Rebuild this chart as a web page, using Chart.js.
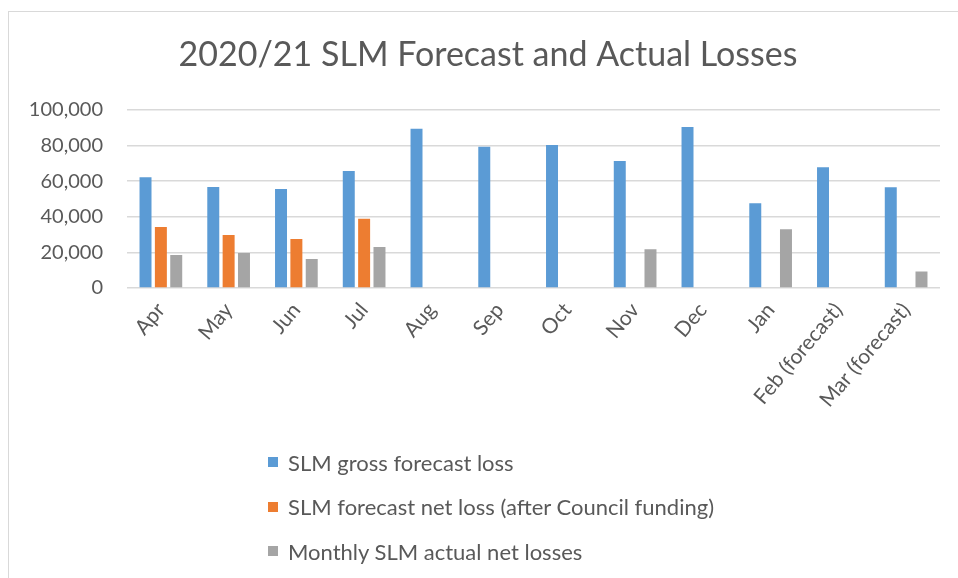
<!DOCTYPE html>
<html>
<head>
<meta charset="utf-8">
<script src="https://cdn.jsdelivr.net/npm/chart.js@4/dist/chart.umd.min.js"></script>
<style>
  html, body { margin: 0; padding: 0; background: #fff; }
  #wrap { position: relative; width: 958px; height: 578px; overflow: hidden; background: #fff; }
  #frame { position: absolute; left: 8px; top: 11px; width: 1000px; height: 700px; border: 1.5px solid #d9d9d9; box-sizing: border-box; }
  #c { position: absolute; left: 0; top: 0; }
  #legend { position: absolute; left: 268px; top: 440px; font-family: Lato, "Open Sans", sans-serif; font-size: 22px; color: #595959; }
  .li { display: flex; align-items: center; height: 44.5px; }
  .sw { width: 10px; height: 10px; margin-right: 10px; }
</style>
</head>
<body>
<div id="wrap">
  <div id="frame"></div>
  <canvas id="c" width="958" height="578"></canvas>
  <div id="legend"></div>
</div>
<script>
const titleText = "2020/21 SLM Forecast and Actual Losses";
const categories = ["Apr", "May", "Jun", "Jul", "Aug", "Sep", "Oct", "Nov", "Dec", "Jan", "Feb (forecast)", "Mar (forecast)"];
const seriesNames = ["SLM gross forecast loss", "SLM forecast net loss (after Council funding)", "Monthly SLM actual net losses"];
const grossForecast = [62200, 56700, 55600, 65700, 89300, 79200, 80300, 71300, 90400, 47600, 67800, 56600];
const netForecast = [34300, 29800, 27500, 38800, null, null, null, null, null, null, null, null];
const actualNet = [18500, 19700, 16300, 23000, null, null, null, 21700, null, 33000, null, 9200];
const yTicks = [0, 20000, 40000, 60000, 80000, 100000];
const colors = ["#5B9BD5", "#ED7D31", "#A5A5A5"];

const FONT = "Lato, 'Open Sans', sans-serif";
const TXT = "#595959";

const shiftTitle = {
  id: "shiftTitle",
  afterLayout(chart) {
    const tb = chart.titleBlock;
    if (tb) { tb.left += 18; tb.right += 18; }
  }
};

const chart = new Chart(document.getElementById("c"), {
  type: "bar",
  data: {
    labels: categories,
    datasets: [
      { label: seriesNames[0], data: grossForecast, backgroundColor: colors[0] },
      { label: seriesNames[1], data: netForecast, backgroundColor: colors[1] },
      { label: seriesNames[2], data: actualNet, backgroundColor: colors[2] }
    ]
  },
  plugins: [shiftTitle],
  options: {
    responsive: false,
    animation: false,
    devicePixelRatio: 1,
    layout: { padding: { left: 0, right: 18, top: 0, bottom: 0 } },
    datasets: { bar: { categoryPercentage: 0.68, barPercentage: 0.78 } },
    plugins: {
      legend: { display: false },
      tooltip: { enabled: false },
      title: {
        display: true,
        text: titleText,
        color: TXT,
        font: { family: FONT, size: 34, weight: "normal" },
        padding: { top: 35, bottom: 34 }
      }
    },
    scales: {
      x: {
        grid: { display: false },
        border: { display: false },
        ticks: {
          color: TXT,
          font: { family: FONT, size: 21 },
          minRotation: 50,
          maxRotation: 50,
          padding: 2,
          autoSkip: false
        },
        afterFit(scale) { scale.height = 290; }
      },
      y: {
        min: 0,
        max: 100000,
        afterBuildTicks(scale) { scale.ticks = yTicks.map(v => ({ value: v })); },
        grid: { color: "#d9d9d9", lineWidth: 1.5, drawTicks: false },
        border: { display: false },
        ticks: {
          color: TXT,
          font: { family: FONT, size: 20 },
          padding: 24,
          callback: v => v.toLocaleString("en-US")
        },
        afterFit(scale) { scale.width = 127; }
      }
    }
  }
});

const leg = document.getElementById("legend");
seriesNames.forEach((n, i) => {
  const row = document.createElement("div");
  row.className = "li";
  const sw = document.createElement("span");
  sw.className = "sw";
  sw.style.background = colors[i];
  const t = document.createElement("span");
  t.textContent = n;
  row.appendChild(sw);
  row.appendChild(t);
  leg.appendChild(row);
});
</script>
</body>
</html>
